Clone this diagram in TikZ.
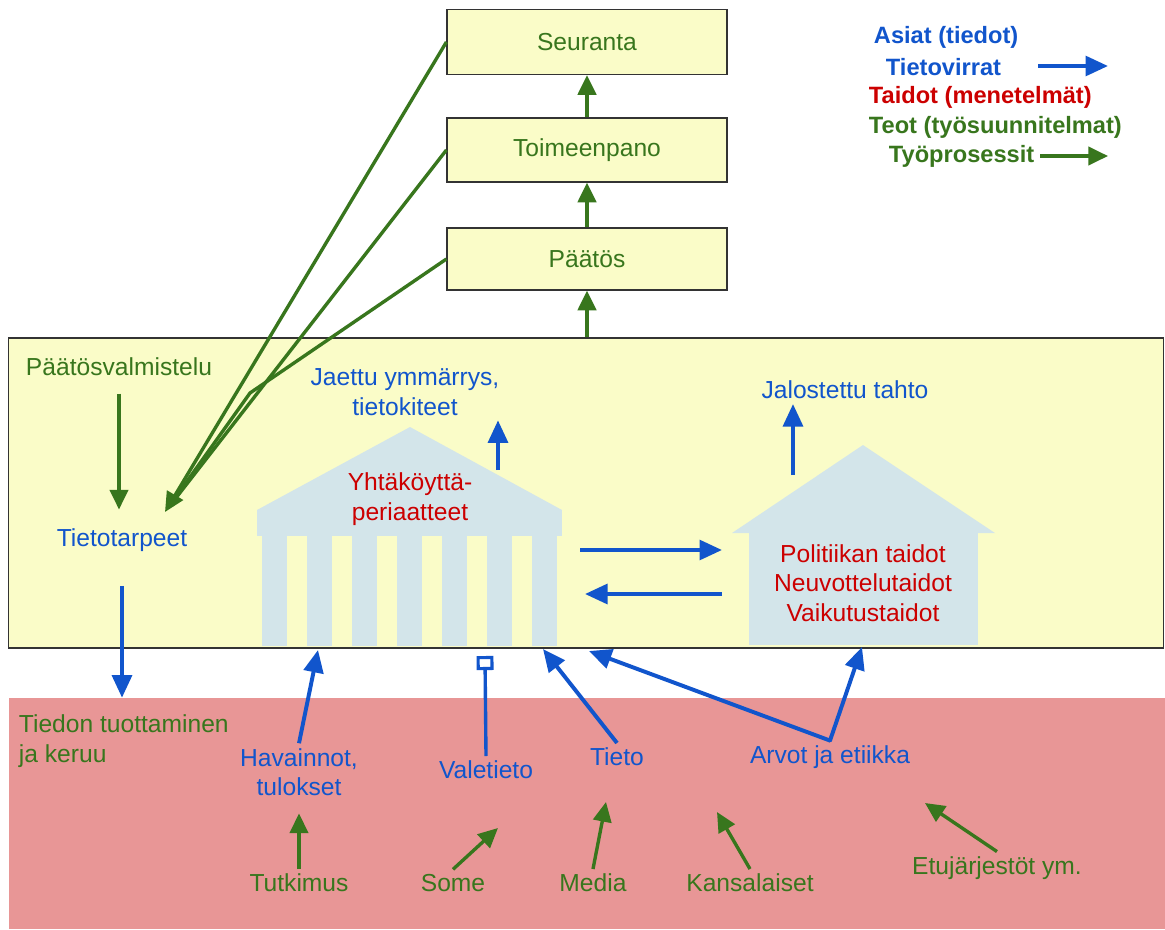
\documentclass[tikz,border=0pt]{standalone}
\usepackage{fontspec}
\setmainfont{Liberation Sans}
\usepackage{xcolor}
\usetikzlibrary{arrows.meta}

\definecolor{infoblue}{RGB}{17,85,204}
\definecolor{skillred}{RGB}{204,0,0}
\definecolor{workgreen}{RGB}{56,118,29}
\definecolor{paleyellow}{RGB}{250,252,200}
\definecolor{paleblue}{RGB}{211,229,234}
\definecolor{rosepink}{RGB}{232,150,150}

\begin{document}
\begin{tikzpicture}[x=0.025cm, y=-0.025cm,
    font=\fontsize{17.5}{21}\selectfont,
    asia/.style={text=infoblue, align=center},
    taito/.style={text=skillred, align=center},
    teko/.style={text=workgreen, align=center},
    legend/.style={anchor=west, font=\fontsize{16.8}{20}\selectfont\bfseries},
    stage/.style={rectangle, draw=black!80, line width=0.8pt, fill=paleyellow, minimum width=7cm, minimum height=1.6cm, text=workgreen},
    flow/.style={-{Triangle[length=16pt, width=14pt]}, draw=infoblue, line width=2.8pt},
    fakeflow/.style={-{Square[open, length=10pt, width=12pt, line width=2.2pt]}, draw=infoblue, line width=2.4pt},
    work/.style={-{Triangle[length=14pt, width=13pt]}, draw=workgreen, line width=2.4pt},
    workline/.style={draw=workgreen, line width=2.4pt}]

    \fill[white] (0,0) rectangle (1165,929);
    \useasboundingbox (0,0) rectangle (1165,929);

    \node[fill=rosepink, inner sep=0pt, minimum width=28.9cm, minimum height=5.775cm] (field) at (587,813.5) {};
    \node[draw=black!80, line width=0.8pt, fill=paleyellow, inner sep=0pt, minimum width=28.85cm, minimum height=7.75cm] (prep) at (586,493) {};

    \node[stage, minimum height=1.625cm] (seuranta) at (587,42) {Seuranta};
    \node[stage] (toimeenpano) at (587,150) {Toimeenpano};
    \node[stage, minimum height=1.55cm] (paatos) at (587,259) {Päätös};

    % temppeli
    \fill[paleblue] (257,510) -- (410,427) -- (562,510) -- cycle;
    \fill[paleblue] (257,510) rectangle (562,536);
    \foreach \i in {0,...,6}
        \fill[paleblue] (262+45*\i,536) rectangle ++(25,110);

    % talo
    \fill[paleblue] (732,533) -- (863,445) -- (995,533) -- cycle;
    \fill[paleblue] (749,533) rectangle (978,645);

    \node[teko] (valmistelu) at (119,367) {Päätösvalmistelu};
    \node[asia] (tarpeet) at (122,540) {Tietotarpeet};
    \node[asia] (jaettu) at (405,392) {Jaettu ymmärrys,\\tietokiteet};
    \node[asia] (tahto) at (845,390) {Jalostettu tahto};
    \node[taito] (periaatteet) at (410,499) {Yhtäköyttä-\\periaatteet};
    \node[taito] (taidot) at (863,583) {Politiikan taidot\\Neuvottelutaidot\\Vaikutustaidot};

    \node[teko, align=left, anchor=west] (tuotanto) at (14,741) {Tiedon tuottaminen\\ja keruu};
    \node[asia] (havainnot) at (299,772) {Havainnot,\\tulokset};
    \node[asia] (valetieto) at (486,770) {Valetieto};
    \node[asia] (tieto) at (617,757) {Tieto};
    \node[asia] (arvot) at (830,757) {Arvot ja etiikka};
    \node[teko] (tutkimus) at (299,883) {Tutkimus};
    \node[teko] (some) at (453,883) {Some};
    \node[teko] (media) at (593,883) {Media};
    \node[teko] (kansalaiset) at (750,883) {Kansalaiset};
    \node[teko] (etu) at (997,868) {Etujärjestöt ym.};

    \node[asia, legend] (asiat) at (869,37) {Asiat (tiedot)};
    \node[asia, legend] (virrat) at (881,67) {Tietovirrat};
    \node[taito, legend] (legtaidot) at (864,97) {Taidot (menetelmät)};
    \node[teko, legend] (teot) at (864,127) {Teot (työsuunnitelmat)};
    \node[teko, legend] (prosessit) at (884,156) {Työprosessit};

    \coordinate (flowfrom) at (1038,66);
    \coordinate (flowto) at (1108,66);
    \coordinate (workfrom) at (1040,156);
    \coordinate (workto) at (1108,156);
    \coordinate (needin) at (165,512);
    \coordinate (bend) at (250,393);
    \coordinate (templeout) at (498,470);
    \coordinate (houseout) at (793,475);
    \coordinate (templeright) at (580,550);
    \coordinate (houseleft) at (722,550);
    \coordinate (housefrom) at (722,594);
    \coordinate (templeback) at (585,594);
    \coordinate (col2) at (318,650);
    \coordinate (col7) at (543,649);
    \coordinate (corner) at (589,651);
    \coordinate (housefoot) at (862,647);
    \coordinate (square) at (485,656);
    \coordinate (someto) at (498,828);
    \coordinate (mediato) at (606,802);
    \coordinate (kansato) at (717,812);
    \coordinate (etuto) at (925,803);

    \draw[flow] (flowfrom) -- (flowto);
    \draw[work] (workfrom) -- (workto);

    \draw[work] (prep.north -| paatos) -- (paatos);
    \draw[work] (paatos) -- (toimeenpano);
    \draw[work] (toimeenpano) -- (seuranta);

    \draw[work] (seuranta.west) -- (needin);
    \draw[workline, shorten >=12pt] (toimeenpano.west) -- (needin);
    \draw[workline, shorten >=12pt] (paatos.west) -- (bend) -- (needin);

    \draw[work, shorten <=9pt, shorten >=10pt] (valmistelu.south) -- (valmistelu.south |- tarpeet.north);
    \draw[flow, shorten <=21pt] (tarpeet.south) -- (tarpeet.south |- field.north);

    \draw[flow] (templeout) -- (templeout |- jaettu.south);
    \draw[flow] (houseout) -- (houseout |- tahto.south);
    \draw[flow] (templeright) -- (houseleft);
    \draw[flow] (housefrom) -- (templeback);

    \draw[flow] (havainnot.north) -- (col2);
    \draw[fakeflow] (valetieto.north) -- (square);
    \draw[flow] (tieto.north) -- (col7);
    \draw[flow, line cap=round] (arvot.north) -- (corner);
    \draw[flow, line cap=round] (arvot.north) -- (housefoot);

    \draw[work, shorten >=9pt] (tutkimus.north) -- (havainnot.south);
    \draw[work] (some.north) -- (someto);
    \draw[work] (media.north) -- (mediato);
    \draw[work] (kansalaiset.north) -- (kansato);
    \draw[work] (etu.north) -- (etuto);
\end{tikzpicture}
\end{document}
